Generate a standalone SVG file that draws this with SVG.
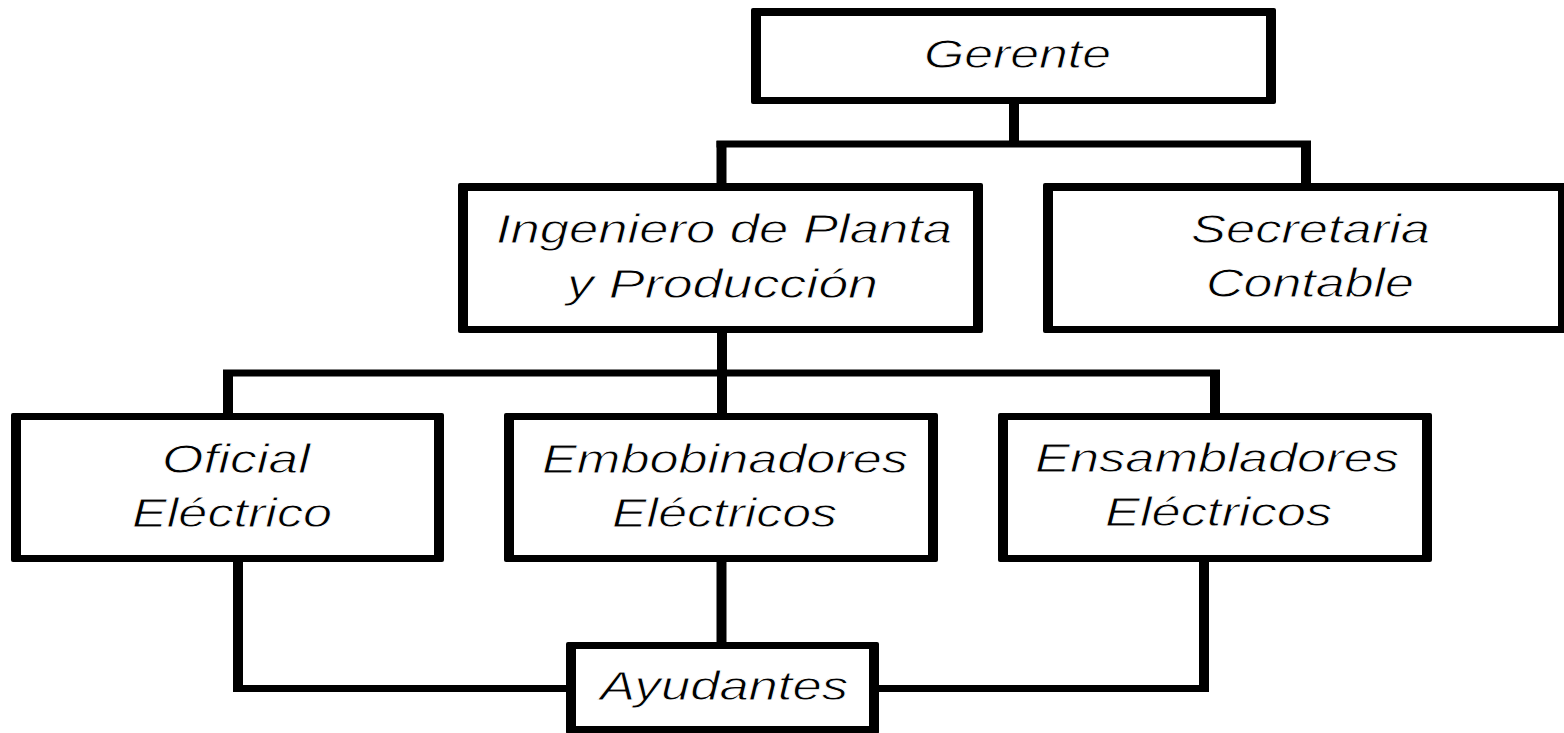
<svg xmlns="http://www.w3.org/2000/svg" width="1564" height="733" viewBox="0 0 1564 733">
  <style>
    .bg { fill: #ffffff; }
    .frame { fill: #000000; }
    .inner { fill: #ffffff; }
    .lbl { font-family: "Liberation Sans", Arial, sans-serif; font-style: italic; font-size: 40px; fill: #000000; stroke: #ffffff; stroke-width: 0.8px; }
    .h { stroke: #000000; stroke-width: 7; fill: none; }
    .v { stroke: #000000; stroke-width: 10; fill: none; }
  </style>
  <rect class="bg" x="0" y="0" width="1564" height="733"/>

  <g id="connectors">
    <line class="v" x1="1014" y1="100" x2="1014" y2="144"/>
    <line class="h" x1="716.5" y1="144" x2="1311" y2="144"/>
    <line class="v" x1="721.5" y1="141" x2="721.5" y2="186"/>
    <line class="v" x1="1306" y1="141" x2="1306" y2="186"/>
    <line class="v" x1="722" y1="330" x2="722" y2="373"/>
    <line class="h" x1="223" y1="373" x2="1220" y2="373"/>
    <line class="v" x1="228" y1="370" x2="228" y2="416"/>
    <line class="v" x1="722" y1="373" x2="722" y2="416"/>
    <line class="v" x1="1215" y1="370" x2="1215" y2="416"/>
    <line class="v" x1="238" y1="560" x2="238" y2="692"/>
    <line class="h" x1="233" y1="688.5" x2="568" y2="688.5"/>
    <line class="v" x1="721.5" y1="560" x2="721.5" y2="645"/>
    <line class="v" x1="1204" y1="560" x2="1204" y2="692"/>
    <line class="h" x1="877" y1="688.5" x2="1209" y2="688.5"/>
  </g>

  <g id="gerente">
    <rect class="frame" x="751" y="8" width="525" height="96" rx="2"/>
    <rect class="inner" x="761" y="16" width="505" height="81"/>
    <text class="lbl" x="924" y="68" textLength="187" lengthAdjust="spacingAndGlyphs">Gerente</text>
  </g>

  <g id="ingeniero">
    <rect class="frame" x="458" y="183" width="525" height="150" rx="2"/>
    <rect class="inner" x="468" y="191" width="505" height="135"/>
    <text class="lbl" x="496" y="243" textLength="456" lengthAdjust="spacingAndGlyphs">Ingeniero de Planta</text>
    <text class="lbl" x="567" y="298" textLength="311" lengthAdjust="spacingAndGlyphs">y Producción</text>
  </g>

  <g id="secretaria">
    <rect class="frame" x="1043" y="183" width="530" height="150" rx="2"/>
    <rect class="inner" x="1053" y="191" width="505" height="135"/>
    <text class="lbl" x="1191" y="243" textLength="239" lengthAdjust="spacingAndGlyphs">Secretaria</text>
    <text class="lbl" x="1206" y="297" textLength="208" lengthAdjust="spacingAndGlyphs">Contable</text>
  </g>

  <g id="oficial">
    <rect class="frame" x="11" y="413" width="433" height="149" rx="2"/>
    <rect class="inner" x="21" y="420" width="413" height="135"/>
    <text class="lbl" x="162" y="473" textLength="148" lengthAdjust="spacingAndGlyphs">Oficial</text>
    <text class="lbl" x="132" y="527" textLength="200" lengthAdjust="spacingAndGlyphs">Eléctrico</text>
  </g>

  <g id="embobinadores">
    <rect class="frame" x="504" y="413" width="434" height="149" rx="2"/>
    <rect class="inner" x="514" y="420" width="414" height="135"/>
    <text class="lbl" x="542" y="473" textLength="366" lengthAdjust="spacingAndGlyphs">Embobinadores</text>
    <text class="lbl" x="612" y="527" textLength="225" lengthAdjust="spacingAndGlyphs">Eléctricos</text>
  </g>

  <g id="ensambladores">
    <rect class="frame" x="998" y="413" width="434" height="149" rx="2"/>
    <rect class="inner" x="1008" y="420" width="414" height="135"/>
    <text class="lbl" x="1035" y="472" textLength="364" lengthAdjust="spacingAndGlyphs">Ensambladores</text>
    <text class="lbl" x="1105" y="526" textLength="227" lengthAdjust="spacingAndGlyphs">Eléctricos</text>
  </g>

  <g id="ayudantes">
    <rect class="frame" x="566" y="642" width="313" height="92" rx="2"/>
    <rect class="inner" x="576" y="649" width="293" height="77"/>
    <text class="lbl" x="600" y="700" textLength="248" lengthAdjust="spacingAndGlyphs">Ayudantes</text>
  </g>
</svg>
